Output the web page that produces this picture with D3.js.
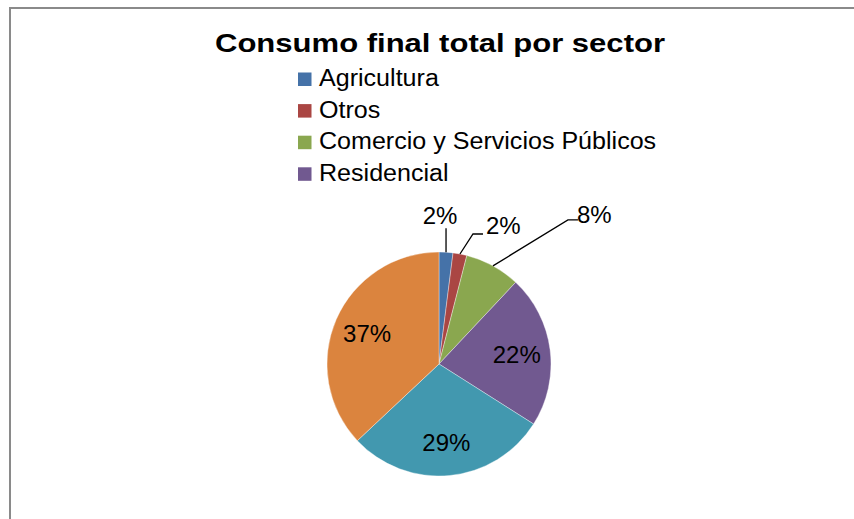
<!DOCTYPE html>
<html>
<head>
<meta charset="utf-8">
<script src="https://cdn.jsdelivr.net/npm/d3@7"></script>
<style>
  html, body { margin: 0; padding: 0; background: #fff; }
  svg { display: block; font-family: "Liberation Sans", Arial, sans-serif; }
</style>
</head>
<body>
<svg id="chart" width="854" height="519"></svg>
<script>
// Final energy consumption by sector (shares, %)
const categories = ["Agricultura", "Otros", "Comercio y Servicios Públicos", "Residencial", "Industria", "Transporte"];
const shares = [2, 2, 8, 22, 29, 37];
const colors = ["#4572A8", "#AA4643", "#8AA74F", "#715990", "#4298AF", "#DB843E"];
const title = "Consumo final total por sector";
const legendCount = 4; // the legend box only has room for the first four sectors

const svg = d3.select("#chart");
const W = 854, H = 519;
const cx = 439, cy = 364, R = 112;

// chart area frame
svg.append("rect")
  .attr("x", 10).attr("y", 8)
  .attr("width", W + 20).attr("height", H + 20)
  .attr("fill", "#fff")
  .attr("stroke", "#8a8a8a")
  .attr("stroke-width", 2);

// title
svg.append("text")
  .attr("x", 440).attr("y", 52)
  .attr("text-anchor", "middle")
  .attr("font-size", 25)
  .attr("font-weight", "bold")
  .attr("textLength", 450)
  .attr("lengthAdjust", "spacingAndGlyphs")
  .attr("fill", "#000")
  .text(title);

// legend
const legendY = d3.scaleLinear().domain([0, 1]).range([86, 117.6]);
const legend = svg.append("g");
categories.slice(0, legendCount).forEach((name, i) => {
  const y = legendY(i);
  legend.append("rect")
    .attr("x", 298).attr("y", y - 13.5)
    .attr("width", 13.5).attr("height", 13.5)
    .attr("fill", colors[i]);
  const t = legend.append("text")
    .attr("x", 319).attr("y", y)
    .attr("font-size", 23)
    .attr("fill", "#000")
    .text(name);
  const len = t.node().getComputedTextLength();
  t.attr("textLength", len * 1.09).attr("lengthAdjust", "spacingAndGlyphs");
});

// pie
const data = categories.map((c, i) => ({ name: c, value: shares[i], color: colors[i] }));
const pie = d3.pie().value(d => d.value).sort(null);
const arcs = pie(data);
const arc = d3.arc().innerRadius(0).outerRadius(R);
const labelArc = d3.arc().innerRadius(R * 0.7).outerRadius(R * 0.7);

const g = svg.append("g").attr("transform", `translate(${cx},${cy})`);
g.selectAll("path.slice")
  .data(arcs)
  .enter().append("path")
  .attr("class", "slice")
  .attr("d", arc)
  .attr("fill", d => d.data.color)
  .attr("stroke", "rgba(255,255,255,0.6)")
  .attr("stroke-width", 0.6);

// small slices get a callout outside the pie: elbow offset from the rim,
// horizontal tail length, and label anchor
const callout = {
  "Agricultura": { ex: 0, ey: -24, tail: 0, lx: -6, ly: -4, anchor: "middle" },
  "Otros": { ex: 13, ey: -20, tail: 10, lx: 3, ly: 0, anchor: "start" },
  "Comercio y Servicios Públicos": { ex: 75, ey: -46, tail: 10, lx: -1, ly: 3.5, anchor: "start" }
};
const fmt = v => d3.format(".0f")(v) + "%";

arcs.forEach(d => {
  const mid = (d.startAngle + d.endAngle) / 2;
  const c = callout[d.data.name];
  if (c) {
    const p0 = [R * Math.sin(mid), -R * Math.cos(mid)];
    const p1 = [p0[0] + c.ex, p0[1] + c.ey];
    const p2 = [p1[0] + c.tail, p1[1]];
    g.append("polyline")
      .attr("points", [p0, p1, p2].map(p => p.join(",")).join(" "))
      .attr("fill", "none")
      .attr("stroke", "#000")
      .attr("stroke-width", 1.3);
    g.append("text")
      .attr("x", p2[0] + c.lx)
      .attr("y", p2[1] + c.ly)
      .attr("text-anchor", c.anchor)
      .attr("font-size", 24)
      .attr("fill", "#000")
      .text(fmt(d.data.value));
  } else {
    const [x, y] = labelArc.centroid(d);
    g.append("text")
      .attr("x", x)
      .attr("y", y)
      .attr("dy", "0.36em")
      .attr("text-anchor", "middle")
      .attr("font-size", 24)
      .attr("fill", "#000")
      .text(fmt(d.data.value));
  }
});
</script>
</body>
</html>
